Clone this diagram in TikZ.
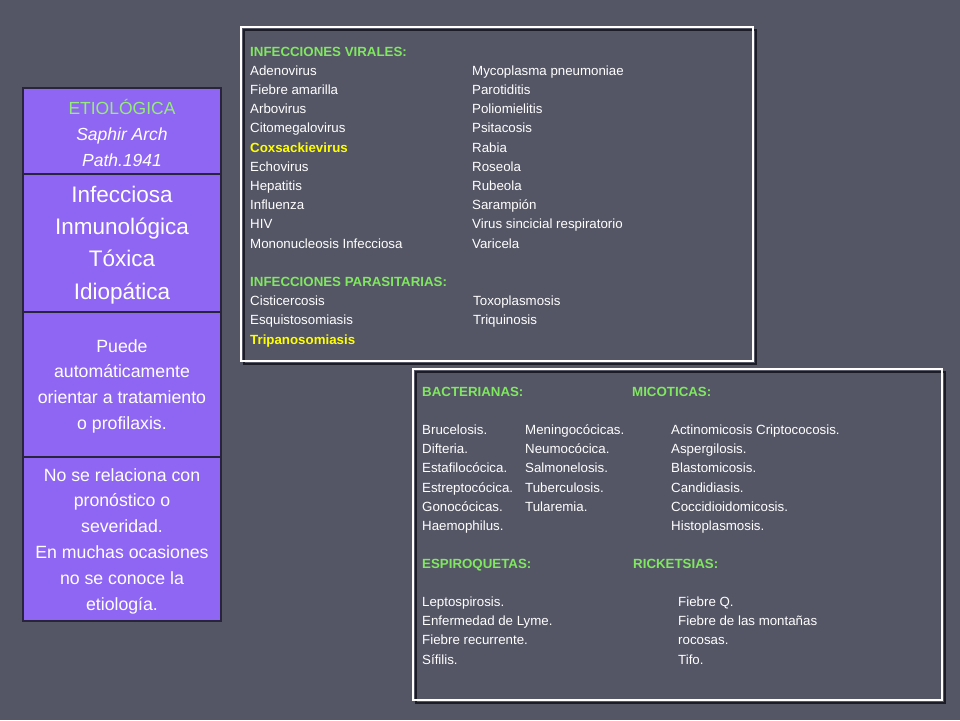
\documentclass[tikz,border=0pt]{standalone}
\usepackage{fontspec}
\setmainfont{Liberation Sans}
\definecolor{bg}{RGB}{84,86,101}
\definecolor{cellpurple}{RGB}{143,102,243}
\definecolor{cellline}{RGB}{40,36,60}
\definecolor{headgreen}{RGB}{128,232,96}
\definecolor{etiogreen}{RGB}{150,236,120}
\definecolor{frameshadow}{RGB}{28,28,38}
\definecolor{hlyellow}{RGB}{255,255,0}
\newcommand{\hlt}[1]{{\color{hlyellow}\bfseries #1}}
\tikzset{
  item/.style={anchor=base west, inner sep=0pt, text=white, font=\fontsize{13.3}{15}\selectfont},
  head/.style={item, text=headgreen, font=\fontsize{13.3}{15}\selectfont\bfseries},
  cell/.style={anchor=center, inner sep=0pt, text=white, align=center},
  frameline/.style={white, line width=1.6pt},
  frameshade/.style={frameshadow, line width=1.6pt},
}
\begin{document}
\begin{tikzpicture}[x=1pt,y=-1pt]
\fill[bg] (0,0) rectangle (960,720);
\useasboundingbox (0,0) rectangle (960,720);

% ---------- left table ----------
\fill[cellpurple] (23,88) rectangle (221,621);
\draw[cellline, line width=1.2pt] (23,88) rectangle (221,621);
\draw[cellline, line width=1.2pt] (23,174) -- (221,174);
\draw[cellline, line width=1.2pt] (23,312) -- (221,312);
\draw[cellline, line width=1.2pt] (23,457) -- (221,457);

\node[cell, font=\fontsize{17.5}{26}\selectfont] (etio) at (122,133)
  {{\color{etiogreen}ETIOLÓGICA}\\\itshape Saphir Arch\\\itshape Path.1941};
\node[cell, font=\fontsize{22.5}{32.3}\selectfont] (tipos) at (122,245)
  {Infecciosa\\Inmunológica\\Tóxica\\Idiopática};
\node[cell, font=\fontsize{17.7}{25.7}\selectfont] (puede) at (122,386)
  {Puede\\automáticamente\\orientar a tratamiento\\o profilaxis.};
\node[cell, font=\fontsize{17.7}{25.8}\selectfont] (nose) at (122,541)
  {No se relaciona con\\pronóstico o\\severidad.\\En muchas ocasiones\\no se conoce la\\etiología.};

% ---------- top frame ----------
\draw[frameshade] (244,30) rectangle (756,364);
\draw[frameline] (241,27) rectangle (753,361);

\node[head] (hviral) at (250,56) {INFECCIONES VIRALES:};
\foreach \t [count=\i from 1] in {Adenovirus,Fiebre amarilla,Arbovirus,Citomegalovirus,\hlt{Coxsackievirus},Echovirus,Hepatitis,Influenza,HIV,Mononucleosis Infecciosa}
  \node[item] (vl\i) at (250,56+19.2*\i) {\t};
\foreach \t [count=\i from 1] in {Mycoplasma pneumoniae,Parotiditis,Poliomielitis,Psitacosis,Rabia,Roseola,Rubeola,Sarampión,Virus sincicial respiratorio,Varicela}
  \node[item] (vr\i) at (472,56+19.2*\i) {\t};

\node[head] (hpara) at (250,286.5) {INFECCIONES PARASITARIAS:};
\foreach \t [count=\i from 1] in {Cisticercosis,Esquistosomiasis,\hlt{Tripanosomiasis}}
  \node[item] (pl\i) at (250,286.5+19.2*\i) {\t};
\foreach \t [count=\i from 1] in {Toxoplasmosis,Triquinosis}
  \node[item] (pr\i) at (473,286.5+19.2*\i) {\t};

% ---------- bottom frame ----------
\draw[frameshade] (416,372) rectangle (945,703);
\draw[frameline] (413,369) rectangle (942,700);

\node[head] (hbact) at (422,396) {BACTERIANAS:};
\node[head] (hmico) at (632,396) {MICOTICAS:};
\foreach \t [count=\i from 0] in {Brucelosis.,Difteria.,Estafilocócica.,Estreptocócica.,Gonocócicas.,Haemophilus.}
  \node[item] (ba\i) at (422,434.4+19.2*\i) {\t};
\foreach \t [count=\i from 0] in {Meningocócicas.,Neumocócica.,Salmonelosis.,Tuberculosis.,Tularemia.}
  \node[item] (bb\i) at (525,434.4+19.2*\i) {\t};
\foreach \t [count=\i from 0] in {Actinomicosis Criptococosis.,Aspergilosis.,Blastomicosis.,Candidiasis.,Coccidioidomicosis.,Histoplasmosis.}
  \node[item] (mc\i) at (671,434.4+19.2*\i) {\t};

\node[head] (hespi) at (422,568.5) {ESPIROQUETAS:};
\node[head] (hrick) at (633,568.5) {RICKETSIAS:};
\foreach \t [count=\i from 0] in {Leptospirosis.,Enfermedad de Lyme.,Fiebre recurrente.,Sífilis.}
  \node[item] (es\i) at (422,606.5+19.2*\i) {\t};
\foreach \t [count=\i from 0] in {Fiebre Q.,Fiebre de las montañas,rocosas.,Tifo.}
  \node[item] (ri\i) at (678,606.5+19.2*\i) {\t};
\end{tikzpicture}
\end{document}
